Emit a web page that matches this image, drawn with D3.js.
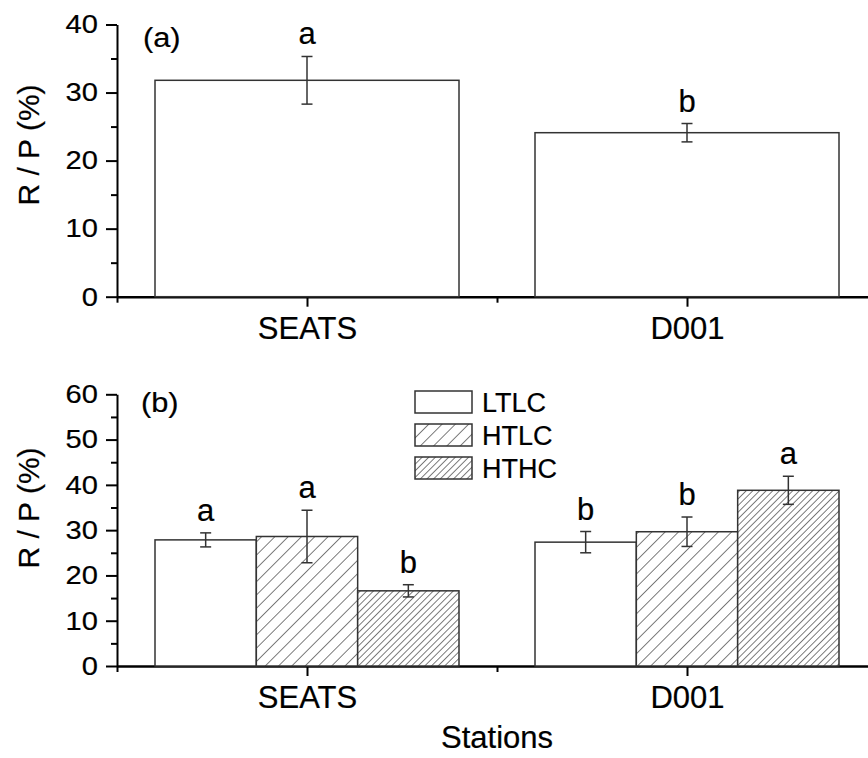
<!DOCTYPE html>
<html><head><meta charset="utf-8">
<script src="https://cdn.jsdelivr.net/npm/d3@7"></script>
<style>
html,body{margin:0;padding:0;background:#fff;}
text{font-family:"Liberation Sans", Arial, sans-serif;fill:#000;stroke:#000;stroke-width:0.2px;}
</style></head>
<body>
<svg id="chart" width="868" height="758"></svg>
<script>
// ---------- data ----------
const stations = ["SEATS", "D001"];
const panelAValues = [31.8, 24.1];
const panelAErrors = [3.5, 1.35];
const panelALetters = ["a", "b"];

const treatments = ["LTLC", "HTLC", "HTHC"];
const ltlcValues = [27.85, 27.35];
const ltlcErrors = [1.55, 2.35];
const ltlcLetters = ["a", "b"];
const htlcValues = [28.6, 29.65];
const htlcErrors = [5.8, 3.25];
const htlcLetters = ["a", "b"];
const hthcValues = [16.6, 38.8];
const hthcErrors = [1.35, 3.1];
const hthcLetters = ["b", "a"];

const panelATicks = [0, 10, 20, 30, 40];
const panelAMinor = [5, 15, 25, 35];
const panelBTicks = [0, 10, 20, 30, 40, 50, 60];
const panelBMinor = [5, 15, 25, 35, 45, 55];
const xMajor = [1, 2];
const xMinor = [0.5, 1.5, 2.5];

// ---------- setup ----------
const svg = d3.select("#chart");
const defs = svg.append("defs");
function hatch(id, spacing) {
  const p = defs.append("pattern").attr("id", id)
    .attr("patternUnits", "userSpaceOnUse")
    .attr("width", spacing).attr("height", spacing)
    .attr("patternTransform", "rotate(45)");
  p.append("rect").attr("width", spacing).attr("height", spacing).attr("fill", "#fff");
  p.append("line").attr("x1", 0).attr("y1", -1).attr("x2", 0).attr("y2", spacing + 1)
    .attr("stroke", "#111").attr("stroke-width", 1.1);
}
hatch("hatchWide", 9.4);
hatch("hatchNarrow", 4.7);
const fills = { LTLC: "#fff", HTLC: "url(#hatchWide)", HTHC: "url(#hatchNarrow)" };

const x = d3.scaleLinear().domain([0.5, 2.5]).range([117, 877]);
const barW = 0.8;
const stroke = "#333";
const tickStretch = 1.12;

function drawAxes(y, ticks, minor) {
  const g = svg.append("g");
  const ya = g.append("g").attr("transform", `translate(${x(0.5)},0)`)
    .call(d3.axisLeft(y).tickValues(ticks).tickSize(11).tickPadding(8).tickSizeOuter(0));
  ya.select(".domain").attr("stroke-width", 2).attr("stroke", "#000");
  ya.selectAll(".tick line").attr("stroke-width", 2);
  ya.selectAll(".tick text").attr("font-size", 26)
    .each(function() {
      const t = d3.select(this);
      const xx = +t.attr("x");
      t.attr("x", xx / tickStretch).attr("transform", `scale(${tickStretch},1)`);
    });
  const ym = g.append("g").attr("transform", `translate(${x(0.5)},0)`)
    .call(d3.axisLeft(y).tickValues(minor).tickSize(6).tickFormat("").tickSizeOuter(0));
  ym.select(".domain").remove();
  ym.selectAll(".tick line").attr("stroke-width", 2);
  const xa = g.append("g").attr("transform", `translate(0,${y(0)})`)
    .call(d3.axisBottom(x).tickValues(xMajor).tickSize(10).tickPadding(10).tickSizeOuter(0)
      .tickFormat((d, i) => stations[i]));
  xa.select(".domain").attr("stroke-width", 2.5).attr("stroke", "#000");
  xa.selectAll(".tick line").attr("stroke-width", 2);
  xa.selectAll(".tick text").attr("font-size", 31);
  const xm = g.append("g").attr("transform", `translate(0,${y(0)})`)
    .call(d3.axisBottom(x).tickValues(xMinor).tickSize(6).tickFormat("").tickSizeOuter(0));
  xm.select(".domain").remove();
  xm.selectAll(".tick line").attr("stroke-width", 2);
  return g;
}

function drawBars(g, y, rows) {
  g.selectAll("rect.bar").data(rows).join("rect").attr("class", "bar")
    .attr("x", d => x(d.x0)).attr("width", d => x(d.x1) - x(d.x0))
    .attr("y", d => y(d.v)).attr("height", d => y(0) - y(d.v))
    .attr("fill", d => d.fill).attr("stroke", stroke).attr("stroke-width", 1.5);
  const cx = d => x((d.x0 + d.x1) / 2);
  const eb = g.selectAll("g.err").data(rows).join("g").attr("class", "err")
    .attr("stroke", stroke).attr("stroke-width", 1.5);
  eb.append("line").attr("x1", cx).attr("x2", cx)
    .attr("y1", d => y(d.v - d.e)).attr("y2", d => y(d.v + d.e));
  eb.append("line").attr("x1", d => cx(d) - 5.5).attr("x2", d => cx(d) + 5.5)
    .attr("y1", d => y(d.v + d.e)).attr("y2", d => y(d.v + d.e));
  eb.append("line").attr("x1", d => cx(d) - 5.5).attr("x2", d => cx(d) + 5.5)
    .attr("y1", d => y(d.v - d.e)).attr("y2", d => y(d.v - d.e));
  g.selectAll("text.letter").data(rows).join("text").attr("class", "letter")
    .attr("x", cx).attr("y", d => y(d.v + d.e) - 12)
    .attr("text-anchor", "middle").attr("font-size", 31).text(d => d.letter);
}

// ---------- panel a ----------
const yA = d3.scaleLinear().domain([0, 40]).range([296.7, 24.5]);
const gA = drawAxes(yA, panelATicks, panelAMinor);
drawBars(gA, yA, stations.map((s, i) => ({
  x0: i + 1 - barW / 2, x1: i + 1 + barW / 2,
  v: panelAValues[i], e: panelAErrors[i], letter: panelALetters[i], fill: "#fff"
})));
gA.append("text").attr("x", 143 / 1.1).attr("y", 47.5).attr("transform", "scale(1.1,1)")
  .attr("font-size", 28).text("(a)");
gA.append("text").attr("transform", "translate(39,145) rotate(-90)")
  .attr("text-anchor", "middle").attr("font-size", 30).text("R / P (%)");

// ---------- panel b ----------
const yB = d3.scaleLinear().domain([0, 60]).range([666, 394.3]);
const gB = drawAxes(yB, panelBTicks, panelBMinor);
const seriesB = [
  { name: "LTLC", values: ltlcValues, errors: ltlcErrors, letters: ltlcLetters },
  { name: "HTLC", values: htlcValues, errors: htlcErrors, letters: htlcLetters },
  { name: "HTHC", values: hthcValues, errors: hthcErrors, letters: hthcLetters }
];
const sub = barW / treatments.length;
const rowsB = [];
stations.forEach((s, i) => {
  seriesB.forEach((ser, j) => {
    const x0 = i + 1 - barW / 2 + j * sub;
    rowsB.push({ x0: x0, x1: x0 + sub, v: ser.values[i], e: ser.errors[i],
      letter: ser.letters[i], fill: fills[ser.name] });
  });
});
drawBars(gB, yB, rowsB);
gB.append("text").attr("x", 141 / 1.1).attr("y", 412.5).attr("transform", "scale(1.1,1)")
  .attr("font-size", 28).text("(b)");
gB.append("text").attr("transform", "translate(39,508) rotate(-90)")
  .attr("text-anchor", "middle").attr("font-size", 30).text("R / P (%)");
gB.append("text").attr("x", x(1.5)).attr("y", 748).attr("text-anchor", "middle")
  .attr("font-size", 31).text("Stations");

// legend
const leg = gB.append("g").attr("transform", "translate(415,391)");
const li = leg.selectAll("g").data(treatments).join("g")
  .attr("transform", (d, i) => `translate(0,${i * 33})`);
li.append("rect").attr("width", 57).attr("height", 22)
  .attr("fill", d => fills[d]).attr("stroke", stroke).attr("stroke-width", 1.5);
li.append("text").attr("x", 67).attr("y", 20.5).attr("font-size", 27).text(d => d);
</script>
</body></html>
